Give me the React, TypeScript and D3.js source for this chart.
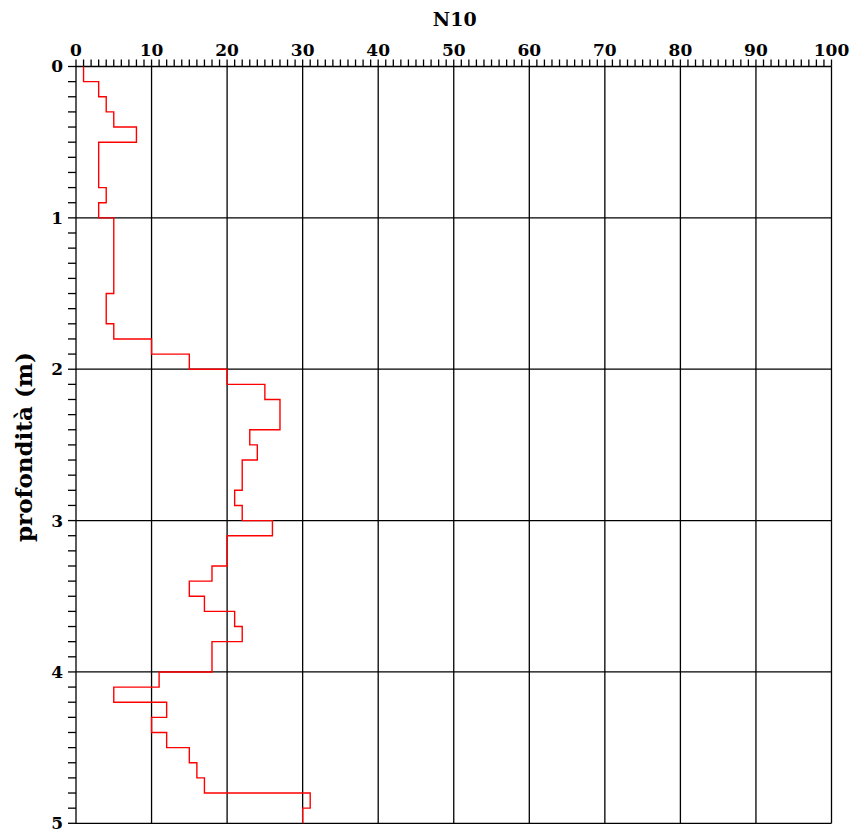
import React from "react";
import * as d3 from "d3";

// Depth intervals (top of each 0.1 m step) and N10 blow counts
const depthTop: number[] = [
  0.0, 0.1, 0.2, 0.3, 0.4, 0.5, 0.6, 0.7, 0.8, 0.9,
  1.0, 1.1, 1.2, 1.3, 1.4, 1.5, 1.6, 1.7, 1.8, 1.9,
  2.0, 2.1, 2.2, 2.3, 2.4, 2.5, 2.6, 2.7, 2.8, 2.9,
  3.0, 3.1, 3.2, 3.3, 3.4, 3.5, 3.6, 3.7, 3.8, 3.9,
  4.0, 4.1, 4.2, 4.3, 4.4, 4.5, 4.6, 4.7, 4.8, 4.9,
];
const n10: number[] = [
  1, 3, 4, 5, 8, 3, 3, 3, 4, 3,
  5, 5, 5, 5, 5, 4, 4, 5, 10, 15,
  20, 25, 27, 27, 23, 24, 22, 22, 21, 22,
  26, 20, 20, 18, 15, 17, 21, 22, 18, 18,
  11, 5, 12, 10, 12, 15, 16, 17, 31, 30,
];
const stepSize = 0.1;

const xTickValues: number[] = [0, 10, 20, 30, 40, 50, 60, 70, 80, 90, 100];
const yTickValues: number[] = [0, 1, 2, 3, 4, 5];
const xTitle = "N10";
const yTitle = "profondità (m)";

const W = 855;
const H = 832;
const left = 76;
const right = 831.5;
const top = 66.5;
const bottom = 823.3;

export default function App() {
  const x = d3.scaleLinear().domain([0, 100]).range([left, right]);
  const y = d3.scaleLinear().domain([0, 5]).range([top, bottom]);

  const pts: [number, number][] = [];
  depthTop.forEach((d, i) => {
    pts.push([n10[i], d]);
    pts.push([n10[i], d + stepSize]);
  });
  const line = d3
    .line<[number, number]>()
    .x((p) => x(p[0]))
    .y((p) => y(p[1]));

  const xMinor = d3.range(0, 101, 1);
  const yMinor = d3.range(0, 51, 1).map((v) => v / 10);

  const font = "'DejaVu Serif', serif";

  return (
    <svg
      width={W}
      height={H}
      style={{ position: "absolute", left: 0, top: 0, background: "#fff" }}
    >
      {/* grid */}
      {xTickValues.map((v) => (
        <line key={"gx" + v} x1={x(v)} x2={x(v)} y1={top} y2={bottom} stroke="#000" strokeWidth={1.3} />
      ))}
      {yTickValues.map((v) => (
        <line key={"gy" + v} x1={left} x2={right} y1={y(v)} y2={y(v)} stroke="#000" strokeWidth={1.3} />
      ))}
      {/* minor ticks */}
      {xMinor.map((v) => (
        <line key={"mx" + v} x1={x(v)} x2={x(v)} y1={top} y2={top - 7} stroke="#000" strokeWidth={1.3} />
      ))}
      {yMinor.map((v) => (
        <line key={"my" + v} x1={left} x2={left - 8} y1={y(v)} y2={y(v)} stroke="#000" strokeWidth={1.3} />
      ))}
      {/* data */}
      <path d={line(pts) || ""} fill="none" stroke="#ff0000" strokeWidth={1.4} />
      {/* tick labels */}
      {xTickValues.map((v) => (
        <text
          key={"lx" + v}
          x={x(v)}
          y={top - 11}
          textAnchor="middle"
          fontFamily={font}
          fontWeight="bold"
          fontSize={17}
        >
          {v}
        </text>
      ))}
      {yTickValues.map((v) => (
        <text
          key={"ly" + v}
          x={left - 13}
          y={y(v)}
          dy="0.35em"
          textAnchor="end"
          fontFamily={font}
          fontWeight="bold"
          fontSize={17}
        >
          {v}
        </text>
      ))}
      {/* titles */}
      <text
        x={(left + right) / 2 + 1}
        y={26}
        textAnchor="middle"
        fontFamily={font}
        fontWeight="bold"
        fontSize={19}
      >
        {xTitle}
      </text>
      <text
        transform={`translate(32,${447}) rotate(-90)`}
        textAnchor="middle"
        fontFamily={font}
        fontWeight="bold"
        fontSize={23}
      >
        {yTitle}
      </text>
    </svg>
  );
}
